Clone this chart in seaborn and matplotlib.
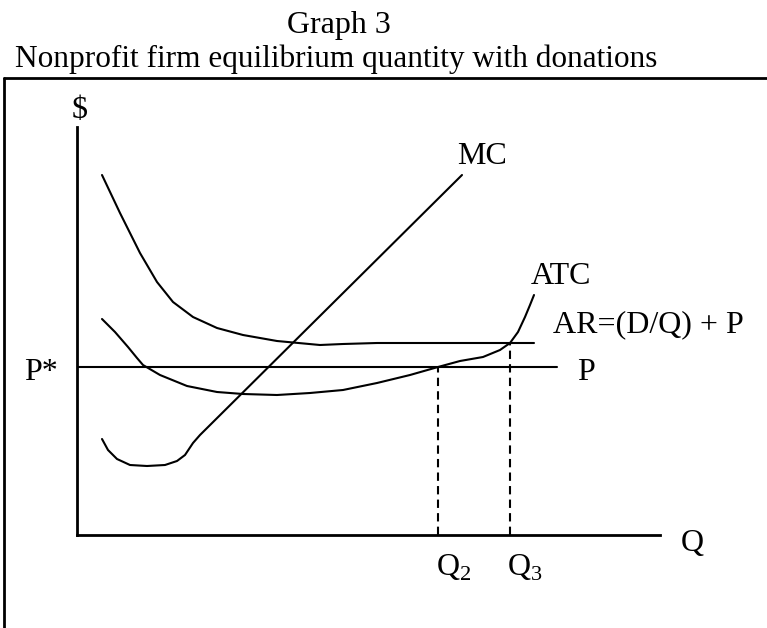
import matplotlib
matplotlib.use("Agg")
import matplotlib.pyplot as plt
from matplotlib.lines import Line2D
import seaborn as sns

# Curve readings (Q, $) with origin at the axes corner
ar_q = [25, 43, 63, 80, 96, 116, 140, 166, 200, 243, 266, 300, 457]
ar_p = [360, 322, 282, 253, 233, 218, 207, 200, 194, 190, 191, 192, 192]

atc_q = [25, 38, 51, 60, 66, 83, 110, 140, 166, 200, 233, 266, 300, 333,
         361, 383, 406, 423, 433, 441, 448, 453, 457]
atc_p = [216, 203, 188, 177, 170, 160, 149, 143, 141, 140, 142, 145, 152, 160,
         168, 174, 178, 185, 192, 203, 218, 230, 240]

mc_q = [25, 31, 40, 53, 70, 88, 100, 108, 116, 123, 385]
mc_p = [96, 85, 76, 70, 69, 70, 74, 80, 92, 100, 360]

p_star = 168
p_line_q = [0, 480]
q2, q3 = 361, 433
ar_level = 192

sns.set_style("white")
plt.rcParams["font.family"] = ["Liberation Serif", "DejaVu Serif"]
plt.rcParams["text.color"] = "black"

fig = plt.figure(figsize=(7.67, 6.28), dpi=100)
ax = fig.add_axes([77 / 767, 93 / 628, 583 / 767, 408 / 628])
ax.set_xlim(0, 583)
ax.set_ylim(0, 408)

lw = 1.5
sns.lineplot(x=ar_q, y=ar_p, sort=False, estimator=None, color="black", lw=lw, ax=ax)
sns.lineplot(x=atc_q, y=atc_p, sort=False, estimator=None, color="black", lw=lw, ax=ax)
sns.lineplot(x=mc_q, y=mc_p, sort=False, estimator=None, color="black", lw=lw, ax=ax)
sns.lineplot(x=p_line_q, y=[p_star, p_star], sort=False, estimator=None,
             color="black", lw=lw, ax=ax)
ax.plot([q2, q2], [0, p_star], color="black", lw=lw, ls=(0, (4, 2.5)))
ax.plot([q3, q3], [0, ar_level], color="black", lw=lw, ls=(0, (4, 2.5)))

for s in ["top", "right"]:
    ax.spines[s].set_visible(False)
for s in ["left", "bottom"]:
    ax.spines[s].set_linewidth(2)
    ax.spines[s].set_color("black")
ax.set_xticks([])
ax.set_yticks([])

fs = 23
kw = dict(fontsize=fs, clip_on=False, color="black")
ax.text(3, 425, "$", ha="center", va="center", **kw)
ax.text(405, 378, "MC", ha="center", va="center", **kw)
ax.text(484, 258, "ATC", ha="center", va="center", **kw)
ax.text(476, 210, "AR=(D/Q) + P", ha="left", va="center", **kw)
ax.text(500, 162, "P", ha="left", va="center", **kw)
ax.text(-36, 163, "P*", ha="center", va="center", **kw)
ax.text(604, -8, "Q", ha="left", va="center", **kw)
ax.text(359, -33, r"Q$_\mathregular{2}$", ha="left", va="center", **kw)
ax.text(430, -33, r"Q$_\mathregular{3}$", ha="left", va="center", **kw)

# titles and outer frame
fig.text(339 / 767, 1 - 33 / 628, "Graph 3", ha="center", va="baseline",
         fontsize=23, color="black")
fig.text(336 / 767, 1 - 67 / 628, "Nonprofit firm equilibrium quantity with donations",
         ha="center", va="baseline", fontsize=22.5, color="black")
fy = 1 - 78 / 628
fx = 4 / 767
fig.add_artist(Line2D([fx, 1], [fy, fy], color="black", lw=2, transform=fig.transFigure))
fig.add_artist(Line2D([fx, fx], [0, fy], color="black", lw=2, transform=fig.transFigure))

fig.savefig("out.png", dpi=100)
